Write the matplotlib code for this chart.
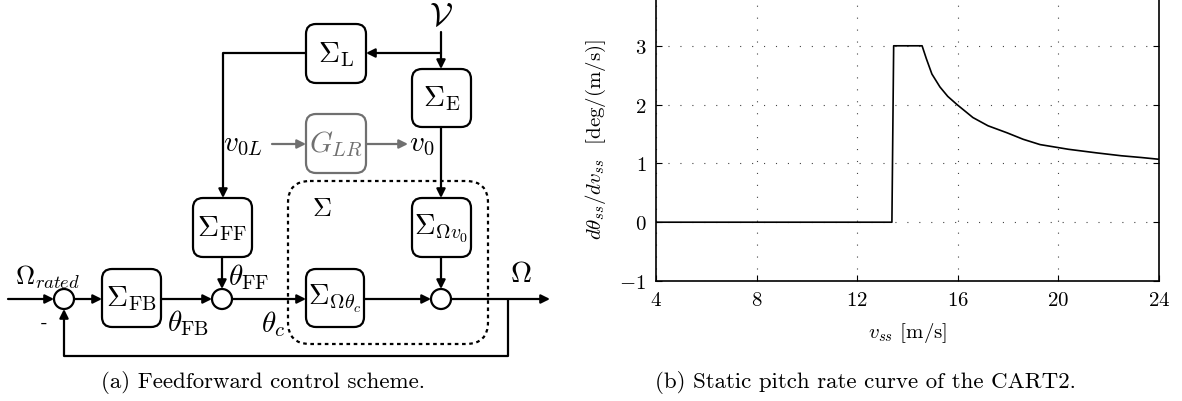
import matplotlib
matplotlib.use('Agg')
import matplotlib.pyplot as plt
from matplotlib.patches import FancyBboxPatch, Circle
import numpy as np

plt.rcParams['mathtext.fontset'] = 'cm'
plt.rcParams['font.family'] = 'serif'
plt.rcParams['font.serif'] = ['cmr10', 'DejaVu Serif']
plt.rcParams['axes.unicode_minus'] = False
plt.rcParams['lines.scale_dashes'] = False

# static pitch rate curve
v_ss = [4, 13.38, 13.45, 14.58, 14.75, 14.97, 15.29, 15.6, 15.97, 16.6, 17.2,
        17.96, 18.6, 19.27, 20.4, 21.5, 22.5, 23.3, 24]
dtheta = [0, 0, 3, 3, 2.78, 2.52, 2.30, 2.14, 2.0, 1.78, 1.64,
          1.52, 1.41, 1.32, 1.24, 1.18, 1.13, 1.10, 1.07]
xticks = [4, 8, 12, 16, 20, 24]
yticks = [-1, 0, 1, 2, 3]

fig = plt.figure(figsize=(11.82, 4.02), dpi=100)

# ---- block diagram, drawn in pixel coordinates ----
d = fig.add_axes([0, 0, 1, 1])
d.set_xlim(0, 1182)
d.set_ylim(402, 0)
d.axis('off')

lw = 1.6
grey = '#707070'


def box(x0, y0, x1, y1, label, color='k', fs=21):
    p = FancyBboxPatch((x0, y0), x1 - x0, y1 - y0,
                       boxstyle='round,pad=0,rounding_size=10',
                       fc='white', ec=color, lw=lw, zorder=3)
    d.add_patch(p)
    d.text((x0 + x1) / 2, (y0 + y1) / 2, label, ha='center', va='center',
           fontsize=fs, color=color, zorder=4)


def arrow(pts, color='k'):
    xs = [p[0] for p in pts]
    ys = [p[1] for p in pts]
    if len(pts) > 2:
        d.plot(xs[:-1], ys[:-1], color=color, lw=lw, solid_capstyle='butt')
    d.annotate('', xy=pts[-1], xytext=pts[-2],
               arrowprops=dict(arrowstyle='-|>', color=color, lw=lw,
                               mutation_scale=13, shrinkA=0, shrinkB=0))


def summer(x, y, r=10):
    d.add_patch(Circle((x, y), r, fc='white', ec='k', lw=lw, zorder=3))


# dashed system boundary
d.add_patch(FancyBboxPatch((288, 182), 200, 163,
                           boxstyle='round,pad=0,rounding_size=22',
                           fc='none', ec='k', lw=lw, ls=(0, (2.6, 2.6)),
                           zorder=2))

box(306, 25, 366, 84, r'$\Sigma_{\mathrm{L}}$')
box(412, 70, 471, 128, r'$\Sigma_{\mathrm{E}}$')
box(306, 115, 366, 174, r'$G_{LR}$', color=grey)
box(193, 199, 252, 258, r'$\Sigma_{\mathrm{FF}}$')
box(412, 199, 471, 258, r'$\Sigma_{\Omega v_0}$', fs=20.5)
box(102, 270, 161, 328, r'$\Sigma_{\mathrm{FB}}$')
box(306, 270, 364, 328, r'$\Sigma_{\Omega\theta_c}$', fs=20.5)

summer(64, 300)
summer(222, 300)
summer(441, 300)

arrow([(441, 33), (441, 70)])
arrow([(441, 54), (366, 54)])
arrow([(306, 54), (223, 54), (223, 199)])
arrow([(441, 128), (441, 199)])
arrow([(272, 145), (306, 145)], color=grey)
arrow([(366, 145), (408, 145)], color=grey)
arrow([(8, 300), (54, 300)])
arrow([(74, 300), (102, 300)])
arrow([(161, 300), (212, 300)])
arrow([(222, 258), (222, 290)])
arrow([(232, 300), (306, 300)])
arrow([(364, 300), (431, 300)])
arrow([(441, 258), (441, 290)])
arrow([(451, 300), (550, 300)])
arrow([(508, 300), (508, 357), (64, 357), (64, 310)])

d.text(441, 17, r'$\mathcal{V}$', ha='center', va='center', fontsize=24)
d.text(243, 145, r'$v_{0L}$', ha='center', va='center', fontsize=21)
d.text(422, 145, r'$v_0$', ha='center', va='center', fontsize=21)
d.text(322, 209, r'$\Sigma$', ha='center', va='center', fontsize=19)
d.text(48, 277, r'$\Omega_{rated}$', ha='center', va='center', fontsize=19)
d.text(44, 323, '-', ha='center', va='center', fontsize=14)
d.text(188, 323, r'$\theta_{\mathrm{FB}}$', ha='center', va='center', fontsize=21)
d.text(249, 277, r'$\theta_{\mathrm{FF}}$', ha='center', va='center', fontsize=21)
d.text(273, 324, r'$\theta_c$', ha='center', va='center', fontsize=21)
d.text(521, 275, r'$\Omega$', ha='center', va='center', fontsize=21)
d.text(263, 383, '(a) Feedforward control scheme.', ha='center', va='center',
       fontsize=16.5)

# ---- static pitch rate curve ----
left, right = 656 / 1182, 1159 / 1182
bottom = (402 - 282) / 402
top = (402 + 12) / 402
ax = fig.add_axes([left, bottom, right - left, top - bottom])
ax.plot(v_ss, dtheta, color='k', lw=1.2)
ax.set_xlim(4, 24)
ax.set_ylim(-1, 4)
ax.set_xticks(xticks)
ax.set_xticklabels(['$%d$' % t for t in xticks])
ax.set_yticks(yticks)
ax.set_yticklabels(['$%d$' % t for t in yticks])
ax.tick_params(direction='in', length=4, width=0.8, labelsize=15,
               top=True, right=True, pad=7)
ax.grid(True, color='#444444', lw=0.8, ls=(0, (0.8, 7.8)))
for s in ax.spines.values():
    s.set_linewidth(1.2)
ax.set_xlabel(r'$v_{ss}$ [m/s]', fontsize=15, labelpad=8)
ax.set_ylabel(r'$d\theta_{ss}/dv_{ss}$  [deg/(m/s)]', fontsize=15,
              labelpad=8)
ax.yaxis.set_label_coords(-0.095, (282 - 140) / (282 + 12))
fig.text(865 / 1182, 1 - 383 / 402, '(b) Static pitch rate curve of the CART2.',
         ha='center', va='center', fontsize=16.5)

fig.savefig('out.png', dpi=100)
